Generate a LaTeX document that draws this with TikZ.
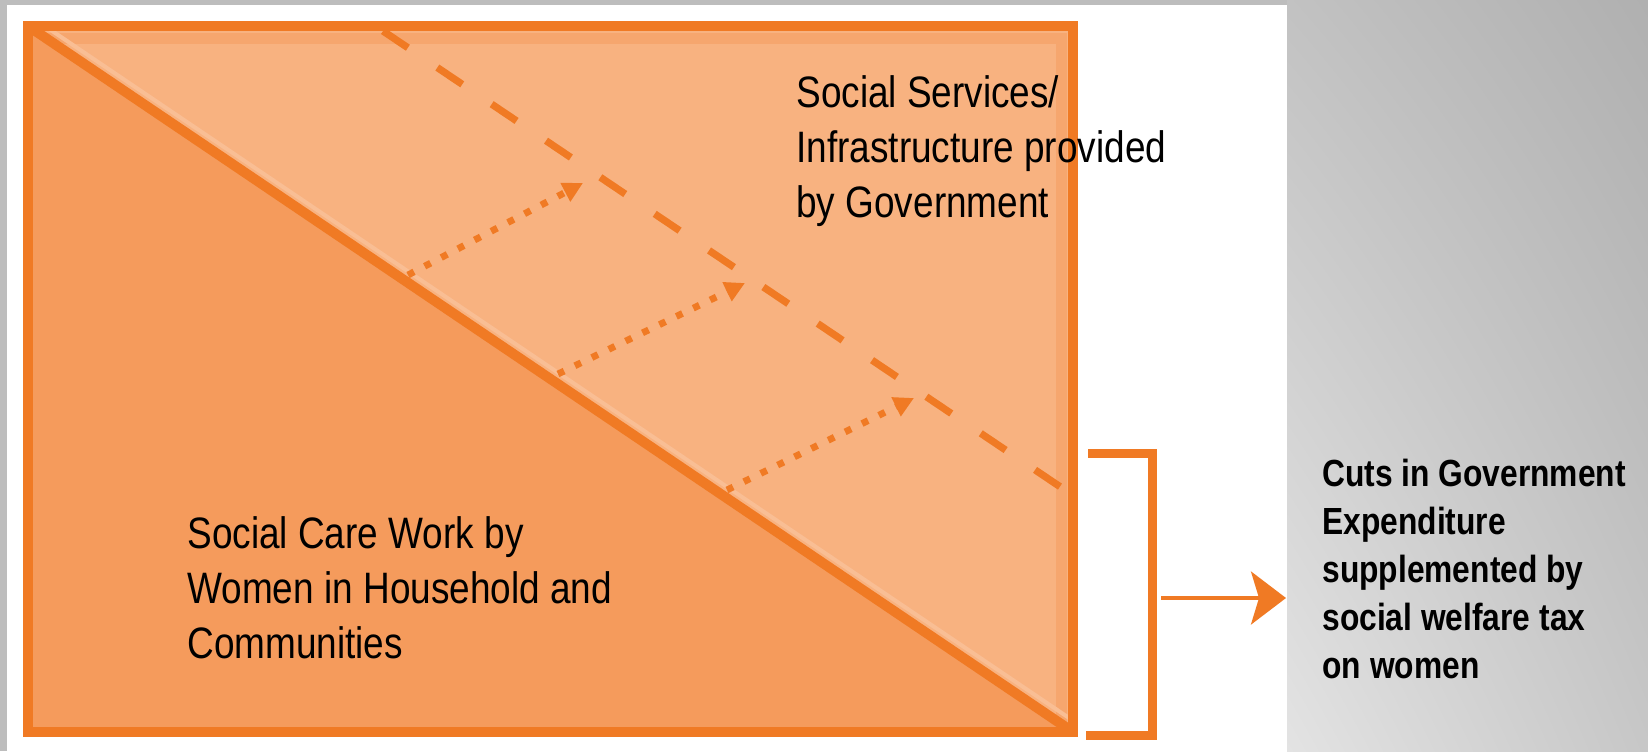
\documentclass[tikz,border=0pt]{standalone}
\usepackage{fontspec}
\setmainfont{Liberation Sans}[FakeStretch=0.84]
\usetikzlibrary{positioning,arrows.meta,shadings}

\definecolor{boxorange}{HTML}{F07A24}
\definecolor{careorange}{HTML}{F59B5C}
\definecolor{serviceorange}{HTML}{F8B280}
\definecolor{bevelorange}{HTML}{F6A66E}
\definecolor{sheenorange}{HTML}{F9BE94}
\definecolor{framegray}{HTML}{BDBDBD}

\tikzset{
    area text/.style={font=\fontsize{22}{27.5}\selectfont, align=left, anchor=base west, inner sep=0pt},
    cut text/.style={font=\bfseries\fontsize{18.9}{24}\selectfont, align=left, anchor=base west, inner sep=0pt},
    flow/.style={draw=boxorange, line width=3.4pt, dash pattern=on 3.4pt off 6pt,
        -{Triangle[length=10pt,width=10pt]}},
}

\begin{document}
\begin{tikzpicture}[x=0.5pt, y=-0.5pt]
    \useasboundingbox (0,0) rectangle (1648,751);

    % slide background
    \fill[framegray] (0,0) rectangle (1648,751);
    \shade[upper left=black!24, upper right=black!31, lower left=black!11, lower right=black!22]
        (1287,0) rectangle (1648,751);
    \fill[white] (7,5) rectangle (1287,751);

    % corners of the box
    \coordinate (tl) at (28,26);
    \coordinate (tr) at (1073,26);
    \coordinate (bl) at (28,732);
    \coordinate (br) at (1073,732);

    % two halves
    \fill[careorange] (tl) -- (bl) -- (br) -- cycle;
    \begin{scope}
        \clip (tl) -- (tr) -- (br) -- cycle;
        \fill[serviceorange] (tl) -- (tr) -- (br) -- cycle;
        \draw[bevelorange, line width=5.5pt] (28,38) -- (1061,38) -- (1061,732);
        \draw[sheenorange, line width=2pt] ([shift={(5,-8)}]tl) -- ([shift={(5,-8)}]br);
    \end{scope}

    % dashed limit line
    \coordinate (dashtop) at (383,31);
    \coordinate (dashbot) at (1062,488);
    \draw[boxorange, line width=3.6pt, dash pattern=on 15pt off 17.75pt] (dashtop) -- (dashbot);

    % shift arrows
    \foreach \i/\sx/\sy/\ex/\ey in {1/408/275/583/183, 2/558/374/745/283, 3/727/490/914/398} {
        \coordinate (from\i) at (\sx,\sy);
        \coordinate (to\i) at (\ex,\ey);
        \draw[flow] (from\i) -- (to\i);
    }

    % diagonal and frame
    \draw[boxorange, line width=5pt] (tl) -- (br);
    \draw[boxorange, line width=5pt] (tl) rectangle (br);

    % labels (base = last line)
    \node[area text] (services) at (796,217) {Social Services/\\Infrastructure provided\\by Government};
    \node[area text] (care) at (187,658) {Social Care Work by\\Women in Household and\\Communities};
    \node[cut text] (cuts) at (1322,678) {Cuts in Government\\Expenditure\\supplemented by\\social welfare tax\\on women};

    % bracket and arrow
    \draw[boxorange, line width=4.5pt] (1088,453) -- (1152,453) -- (1152,735) -- (1086,735);
    \coordinate (cutstart) at (1161,598);
    \draw[boxorange, line width=1.8pt, shorten >=18pt,
        -{Stealth[length=17.5pt,width=26.5pt,inset=4pt]}] (cutstart) -- (cutstart -| cuts.west);
\end{tikzpicture}
\end{document}
